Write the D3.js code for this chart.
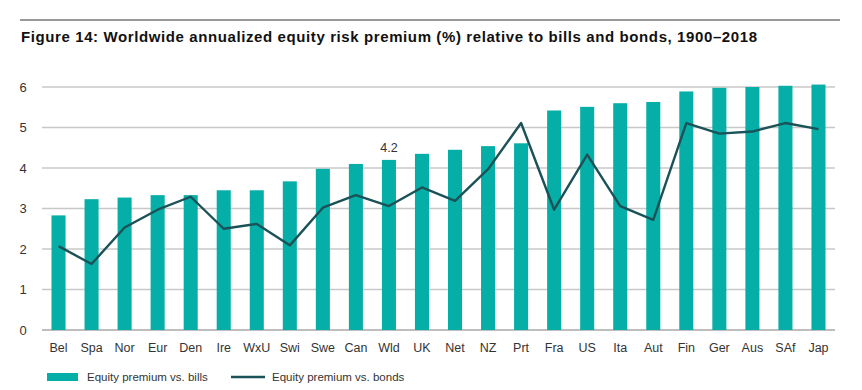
<!DOCTYPE html>
<html>
<head>
<meta charset="utf-8">
<script src="https://cdn.jsdelivr.net/npm/d3@7"></script>
<style>
  body { margin: 0; background: #fff; }
  svg { display: block; font-family: "Liberation Sans", Arial, sans-serif; }
</style>
</head>
<body>
<script>
// country codes, sorted by premium vs bills
const countries = ['Bel', 'Spa', 'Nor', 'Eur', 'Den', 'Ire', 'WxU', 'Swi', 'Swe', 'Can', 'Wld', 'UK',
  'Net', 'NZ', 'Prt', 'Fra', 'US', 'Ita', 'Aut', 'Fin', 'Ger', 'Aus', 'SAf', 'Jap'];
// equity premium vs. bills (bars)
const vsBills = [2.83, 3.23, 3.27, 3.33, 3.33, 3.45, 3.45, 3.67, 3.98, 4.10, 4.20, 4.35,
  4.45, 4.54, 4.61, 5.42, 5.51, 5.60, 5.63, 5.89, 5.98, 6.00, 6.03, 6.06];
// equity premium vs. bonds (line)
const vsBonds = [2.07, 1.63, 2.53, 2.97, 3.29, 2.50, 2.62, 2.09, 3.02, 3.33, 3.06, 3.52,
  3.19, 3.97, 5.11, 2.97, 4.33, 3.06, 2.72, 5.11, 4.85, 4.90, 5.11, 4.96];
const yTicks = [0, 1, 2, 3, 4, 5, 6];
const title = 'Figure 14: Worldwide annualized equity risk premium (%) relative to bills and bonds, 1900\u20132018';
const legendItems = ['Equity premium vs. bills', 'Equity premium vs. bonds'];
const labelled = { country: 'Wld', text: '4.2' };

const barColor = '#05aea6';
const lineColor = '#1b5257';

const svg = d3.select('body').append('svg')
  .attr('width', 862)
  .attr('height', 390);

// rule and title on top
svg.append('line')
  .attr('x1', 20).attr('x2', 840)
  .attr('y1', 20).attr('y2', 20)
  .attr('stroke', '#333').attr('stroke-width', 1.2);

svg.append('text')
  .attr('x', 21).attr('y', 42)
  .attr('font-size', 15)
  .attr('font-weight', 'bold')
  .attr('fill', '#111')
  .attr('textLength', 736)
  .attr('lengthAdjust', 'spacing')
  .text(title);

const x = d3.scaleBand()
  .domain(countries)
  .range([42, 835])
  .paddingInner(0.575)
  .paddingOuter(0.2875);

const y = d3.scaleLinear()
  .domain([0, 6])
  .range([330, 87]);

// gridlines
svg.append('g')
  .selectAll('line')
  .data(yTicks)
  .join('line')
  .attr('x1', 42).attr('x2', 835)
  .attr('y1', (d) => y(d)).attr('y2', (d) => y(d))
  .attr('stroke', (d) => d === 0 ? '#a8a8a8' : '#c8c8c8')
  .attr('stroke-width', 1.3);

// y tick labels
svg.append('g')
  .selectAll('text')
  .data(yTicks)
  .join('text')
  .attr('x', 23)
  .attr('y', (d) => y(d) + 4.5)
  .attr('text-anchor', 'middle')
  .attr('font-size', 13)
  .attr('fill', '#333')
  .text((d) => d);

// bars
svg.append('g')
  .selectAll('rect')
  .data(countries)
  .join('rect')
  .attr('x', (d) => x(d))
  .attr('width', x.bandwidth())
  .attr('y', (d, i) => y(vsBills[i]))
  .attr('height', (d, i) => y(0) - y(vsBills[i]))
  .attr('fill', barColor);

// line
const line = d3.line()
  .x((d, i) => x(countries[i]) + x.bandwidth() / 2)
  .y((d) => y(d));

svg.append('path')
  .datum(vsBonds)
  .attr('d', line)
  .attr('fill', 'none')
  .attr('stroke', lineColor)
  .attr('stroke-width', 2.4)
  .attr('stroke-linejoin', 'round');

// x labels
svg.append('g')
  .selectAll('text')
  .data(countries)
  .join('text')
  .attr('x', (d) => x(d) + x.bandwidth() / 2)
  .attr('y', 352)
  .attr('text-anchor', 'middle')
  .attr('font-size', 12.5)
  .attr('fill', '#333')
  .text((d) => d);

// value label on Wld
const wi = countries.indexOf(labelled.country);
svg.append('text')
  .attr('x', x(labelled.country) + x.bandwidth() / 2)
  .attr('y', y(vsBills[wi]) - 8)
  .attr('text-anchor', 'middle')
  .attr('font-size', 12.5)
  .attr('fill', '#333')
  .text(labelled.text);

// legend
const legend = svg.append('g');
legend.append('rect')
  .attr('x', 47).attr('y', 373)
  .attr('width', 31).attr('height', 8)
  .attr('fill', barColor);
legend.append('text')
  .attr('x', 87).attr('y', 381)
  .attr('font-size', 11.5)
  .attr('fill', '#333')
  .text(legendItems[0]);
legend.append('line')
  .attr('x1', 231).attr('x2', 265)
  .attr('y1', 377).attr('y2', 377)
  .attr('stroke', lineColor)
  .attr('stroke-width', 2.4);
legend.append('text')
  .attr('x', 272).attr('y', 381)
  .attr('font-size', 11.5)
  .attr('fill', '#333')
  .text(legendItems[1]);
</script>
</body>
</html>
